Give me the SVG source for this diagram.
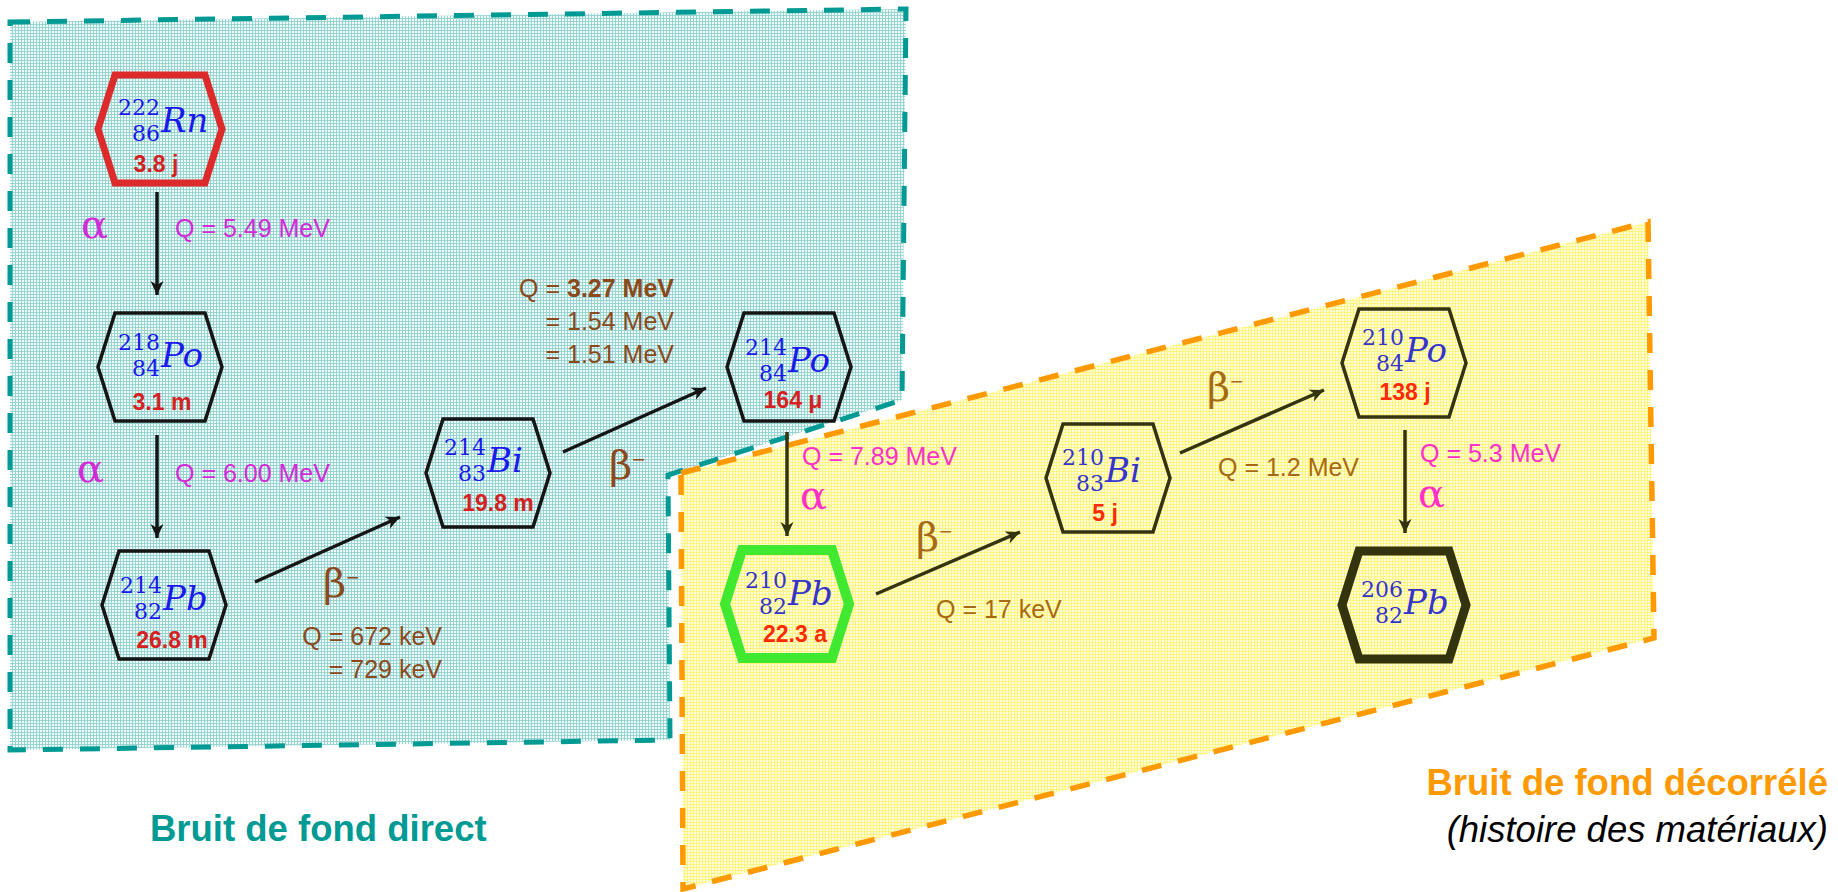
<svg xmlns="http://www.w3.org/2000/svg" width="1838" height="892" viewBox="0 0 1838 892">
<defs>
  <pattern id="tealGrid" width="3" height="3" patternUnits="userSpaceOnUse">
    <rect width="3" height="3" fill="#eef9f8"/>
    <rect width="3" height="1" fill="#98d4d1"/>
    <rect width="1" height="3" fill="#98d4d1"/>
  </pattern>
  <pattern id="yellowGrid" width="3" height="3" patternUnits="userSpaceOnUse">
    <rect width="3" height="3" fill="#fffde0"/>
    <rect width="3" height="1" fill="#fff57e"/>
    <rect width="1" height="3" fill="#fff57e"/>
  </pattern>
  <marker id="arrK" markerUnits="userSpaceOnUse" markerWidth="16" markerHeight="14" refX="14" refY="7" orient="auto">
    <path d="M0,0.5 L14,7 L0,13.5 L4,7 Z" fill="#151515"/>
  </marker>
  <marker id="arrO" markerUnits="userSpaceOnUse" markerWidth="16" markerHeight="14" refX="14" refY="7" orient="auto">
    <path d="M0,0.5 L14,7 L0,13.5 L4,7 Z" fill="#33330d"/>
  </marker>
</defs>
<style>
  .hex{fill:none;stroke-linejoin:miter}
  .hk{stroke:#151515;stroke-width:3.5}
  .ho{stroke:#33330d;stroke-width:3.5}
  .nuc{font-family:"DejaVu Serif",serif;font-size:22px}
  .sym{font-style:italic;font-size:34px}
  .bT{fill:#1a1aee}
  .bY{fill:#3535cc}
  .hl{font-family:"Liberation Sans",Arial,sans-serif;font-weight:bold;font-size:23px;text-anchor:middle}
  .rT{fill:#d42222}
  .rY{fill:#ff2a00}
  .q{font-family:"Liberation Sans",Arial,sans-serif;font-size:25px}
  .gr{font-family:"DejaVu Serif",serif;font-size:40px}
  .mT{fill:#d22bd8}
  .mY{fill:#ff30c8}
  .brT{fill:#8a4a1c}
  .brY{fill:#a86a10}
  .ln{stroke-width:3.5;fill:none}
  .lk{stroke:#151515;marker-end:url(#arrK)}
  .lo{stroke:#33330d;marker-end:url(#arrO)}
  .leg{font-family:"Liberation Sans",Arial,sans-serif;font-size:36.5px}
</style>

<g id="zone-direct">
  <polygon points="10,22 906,9 902,400 668,475 670,740 10,750" fill="url(#tealGrid)" stroke="#009a94" stroke-width="5" stroke-dasharray="20 17"/>
</g>
<g id="zone-decorrele">
  <polygon points="681,473 1648,222 1654,638 683,889" fill="url(#yellowGrid)" stroke="#ff9900" stroke-width="5.5" stroke-dasharray="20 17"/>
</g>

<g id="connectors">
  <line class="ln lk" x1="157" y1="192" x2="157" y2="295"/>
  <line class="ln lk" x1="157" y1="435" x2="157" y2="538"/>
  <line class="ln lk" x1="255" y1="582" x2="400" y2="517"/>
  <line class="ln lk" x1="563" y1="452" x2="706" y2="388"/>
  <line class="ln lo" x1="787" y1="432" x2="787" y2="536"/>
  <line class="ln lo" x1="876" y1="594" x2="1020" y2="532"/>
  <line class="ln lo" x1="1180" y1="453" x2="1324" y2="390"/>
  <line class="ln lo" x1="1405" y1="430" x2="1405" y2="533"/>
</g>

<g id="labels">
  <text class="gr mT" x="81" y="238">α</text>
  <text class="q mT" x="175" y="237">Q = 5.49 MeV</text>
  <text class="gr mT" x="77" y="482">α</text>
  <text class="q mT" x="175" y="482">Q = 6.00 MeV</text>

  <text class="gr brT" x="323" y="597">β<tspan font-family="Liberation Sans" font-size="22" dy="-12">−</tspan></text>
  <text class="q brT" x="442" y="645" text-anchor="end">Q = 672 keV</text>
  <text class="q brT" x="442" y="678" text-anchor="end">= 729 keV</text>

  <text class="gr brT" x="609" y="479">β<tspan font-family="Liberation Sans" font-size="22" dy="-12">−</tspan></text>
  <text class="q brT" x="674" y="297" text-anchor="end">Q = <tspan font-weight="bold">3.27 MeV</tspan></text>
  <text class="q brT" x="674" y="330" text-anchor="end">= 1.54 MeV</text>
  <text class="q brT" x="674" y="363" text-anchor="end">= 1.51 MeV</text>

  <text class="q mY" x="802" y="465">Q = 7.89 MeV</text>
  <text class="gr mY" x="800" y="509">α</text>

  <text class="gr brY" x="916" y="551">β<tspan font-family="Liberation Sans" font-size="22" dy="-12">−</tspan></text>
  <text class="q brY" x="936" y="618">Q = 17 keV</text>

  <text class="gr brY" x="1207" y="401">β<tspan font-family="Liberation Sans" font-size="22" dy="-12">−</tspan></text>
  <text class="q brY" x="1218" y="476">Q = 1.2 MeV</text>

  <text class="q mY" x="1420" y="462">Q = 5.3 MeV</text>
  <text class="gr mY" x="1418" y="507">α</text>
</g>

<g id="Rn222">
  <polygon class="hex" points="98,129 115,75 205,75 222,129 205,183 115,183" stroke="#dd2a2a" stroke-width="7"/>
  <text class="nuc bT"><tspan x="118" y="115">222</tspan><tspan x="132" y="141">86</tspan><tspan class="sym" x="161" y="132">Rn</tspan></text>
  <text class="hl rT" x="156" y="172">3.8 j</text>
</g>
<g id="Po218">
  <polygon class="hex hk" points="98,367 115,313 205,313 222,367 205,421 115,421"/>
  <text class="nuc bT"><tspan x="118" y="350">218</tspan><tspan x="132" y="376">84</tspan><tspan class="sym" x="161" y="367">Po</tspan></text>
  <text class="hl rT" x="162" y="410">3.1 m</text>
</g>
<g id="Pb214">
  <polygon class="hex hk" points="102,605 119,551 209,551 226,605 209,659 119,659"/>
  <text class="nuc bT"><tspan x="120" y="593">214</tspan><tspan x="134" y="619">82</tspan><tspan class="sym" x="163" y="610">Pb</tspan></text>
  <text class="hl rT" x="172" y="648">26.8 m</text>
</g>
<g id="Bi214">
  <polygon class="hex hk" points="426,473 443,419 533,419 550,473 533,527 443,527"/>
  <text class="nuc bT"><tspan x="444" y="455">214</tspan><tspan x="458" y="481">83</tspan><tspan class="sym" x="487" y="472">Bi</tspan></text>
  <text class="hl rT" x="498" y="511">19.8 m</text>
</g>
<g id="Po214">
  <polygon class="hex hk" points="727,367 744,313 834,313 851,367 834,421 744,421"/>
  <text class="nuc bT"><tspan x="745" y="355">214</tspan><tspan x="759" y="381">84</tspan><tspan class="sym" x="788" y="372">Po</tspan></text>
  <text class="hl rT" x="793" y="408">164 μ</text>
</g>
<g id="Pb210">
  <polygon class="hex" points="725,604 742,550 832,550 849,604 832,658 742,658" stroke="#40e830" stroke-width="10"/>
  <text class="nuc bY"><tspan x="745" y="588">210</tspan><tspan x="759" y="614">82</tspan><tspan class="sym" x="788" y="605">Pb</tspan></text>
  <text class="hl rY" x="795" y="642">22.3 a</text>
</g>
<g id="Bi210">
  <polygon class="hex ho" points="1046,478 1063,424 1153,424 1170,478 1153,532 1063,532"/>
  <text class="nuc bY"><tspan x="1062" y="465">210</tspan><tspan x="1076" y="491">83</tspan><tspan class="sym" x="1105" y="482">Bi</tspan></text>
  <text class="hl rY" x="1105" y="521">5 j</text>
</g>
<g id="Po210">
  <polygon class="hex ho" points="1342,363 1359,309 1449,309 1466,363 1449,417 1359,417"/>
  <text class="nuc bY"><tspan x="1362" y="345">210</tspan><tspan x="1376" y="371">84</tspan><tspan class="sym" x="1405" y="362">Po</tspan></text>
  <text class="hl rY" x="1405" y="400">138 j</text>
</g>
<g id="Pb206">
  <polygon class="hex" points="1342,605 1359,551 1449,551 1466,605 1449,659 1359,659" stroke="#33330d" stroke-width="9"/>
  <text class="nuc bY"><tspan x="1361" y="597">206</tspan><tspan x="1375" y="623">82</tspan><tspan class="sym" x="1404" y="614">Pb</tspan></text>
</g>

<g id="legend">
  <text class="leg" x="150" y="841" font-weight="bold" fill="#009a94">Bruit de fond direct</text>
  <text class="leg" x="1828" y="795" font-weight="bold" fill="#ff9900" text-anchor="end">Bruit de fond décorrélé</text>
  <text class="leg" x="1828" y="842" font-style="italic" font-size="37px" fill="#000" text-anchor="end">(histoire des matériaux)</text>
</g>
</svg>
